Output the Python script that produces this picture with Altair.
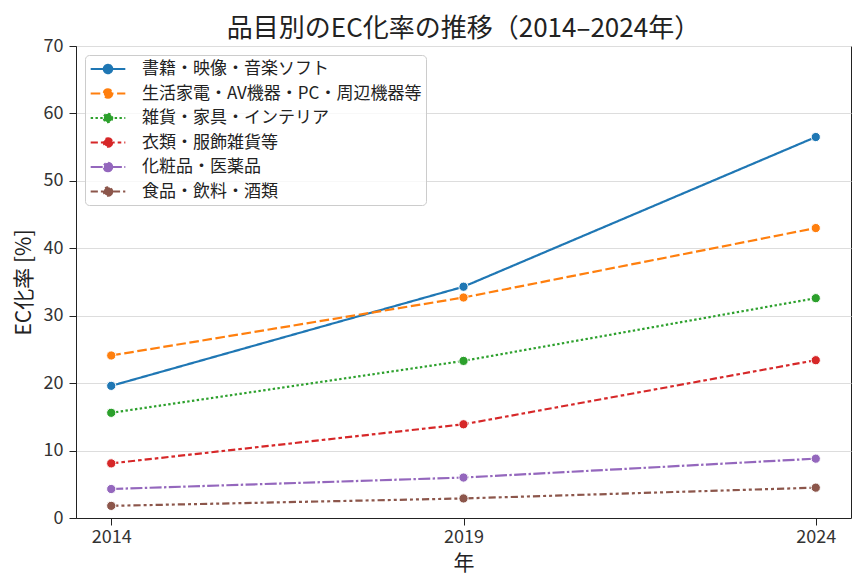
import altair as alt
import pandas as pd

# EC化率 [%] by category
years = [2014, 2019, 2024]
categories = [
    "書籍・映像・音楽ソフト",
    "生活家電・AV機器・PC・周辺機器等",
    "雑貨・家具・インテリア",
    "衣類・服飾雑貨等",
    "化粧品・医薬品",
    "食品・飲料・酒類",
]
books = [19.6, 34.3, 56.5]
appliances = [24.1, 32.7, 43.0]
goods = [15.6, 23.3, 32.6]
clothing = [8.1, 13.9, 23.4]
cosmetics = [4.3, 6.0, 8.8]
food = [1.8, 2.9, 4.5]

series = [books, appliances, goods, clothing, cosmetics, food]
colors = ["#1f77b4", "#ff7f0e", "#2ca02c", "#d62728", "#9467bd", "#8c564b"]
lw = 2.2
d = 2.4  # dash scale
dashes = [
    [1, 0],
    [4 * d, 1.5 * d],
    [1 * d, 1 * d],
    [3 * d, 1.25 * d, 1.5 * d, 1.25 * d],
    [5 * d, 1 * d, 1 * d, 1 * d],
    [3 * d, 1.25 * d, 1.25 * d, 1.25 * d, 1.25 * d, 1.25 * d],
]

rows = []
for cat, vals in zip(categories, series):
    for y, v in zip(years, vals):
        rows.append({"year": y, "category": cat, "rate": v})
df = pd.DataFrame(rows)

FONT = "Noto Sans CJK JP"
# legend symbol: line with a dot in the middle (drawn wider than its box)
SYMBOL = ("M-2,0L2,0M0.48,0A0.48,0.48 0 1,1 -0.48,0"
          "A0.48,0.48 0 1,1 0.48,0Z")

cat_scale = alt.Scale(domain=categories, range=colors)
color = alt.Color("category:N", scale=cat_scale, title=None, sort=categories)
fill = alt.Fill("category:N", scale=cat_scale, title=None, sort=categories)
dash = alt.StrokeDash("category:N", scale=alt.Scale(domain=categories, range=dashes),
                      title=None, sort=categories)

base = alt.Chart(df).encode(
    x=alt.X("year:Q", title="年",
            scale=alt.Scale(domain=[2013.5, 2024.5], nice=False, zero=False),
            axis=alt.Axis(values=years, format="d", grid=False)),
    y=alt.Y("rate:Q", title="EC化率 [%]",
            scale=alt.Scale(domain=[0, 70], nice=False),
            axis=alt.Axis(values=list(range(0, 71, 10)))),
)

lines = base.mark_line(strokeWidth=lw).encode(color=color, strokeDash=dash)
points = base.mark_point(filled=True, size=85, stroke="white", strokeWidth=1,
                         opacity=1).encode(fill=fill)

chart = alt.layer(lines, points).properties(
    width=775,
    height=472,
    autosize=alt.AutoSizeParams(type="none"),
    padding={"left": 68, "top": 38, "right": 2, "bottom": 62},
    title=alt.Title("品目別のEC化率の推移（2014–2024年）", fontSize=26,
                    font=FONT, fontWeight="normal", color="#222", offset=-5),
).configure_view(
    stroke="#222", strokeWidth=1
).configure_axis(
    labelFont=FONT, titleFont=FONT, labelFontSize=18, titleFontSize=21,
    titleFontWeight="normal", labelColor="#333", titleColor="#222",
    domainColor="#222", tickColor="#222", tickSize=7,
    gridColor="#dddddd", gridWidth=1,
).configure_axisY(
    titlePadding=9, labelPadding=6
).configure_axisX(
    titlePadding=6, labelPadding=3
).configure_legend(
    orient="top-left", offset=9,
    labelFont=FONT, labelFontSize=17, labelColor="#222",
    symbolType=SYMBOL, symbolSize=300, symbolStrokeWidth=lw, symbolOffset=9,
    rowPadding=5.5, padding=4, cornerRadius=4, labelOffset=24,
    fillColor="rgba(255,255,255,0.8)", strokeColor="#cccccc",
    labelLimit=400,
)

chart.save("out.html", embed_options={"renderer": "svg", "actions": False})
